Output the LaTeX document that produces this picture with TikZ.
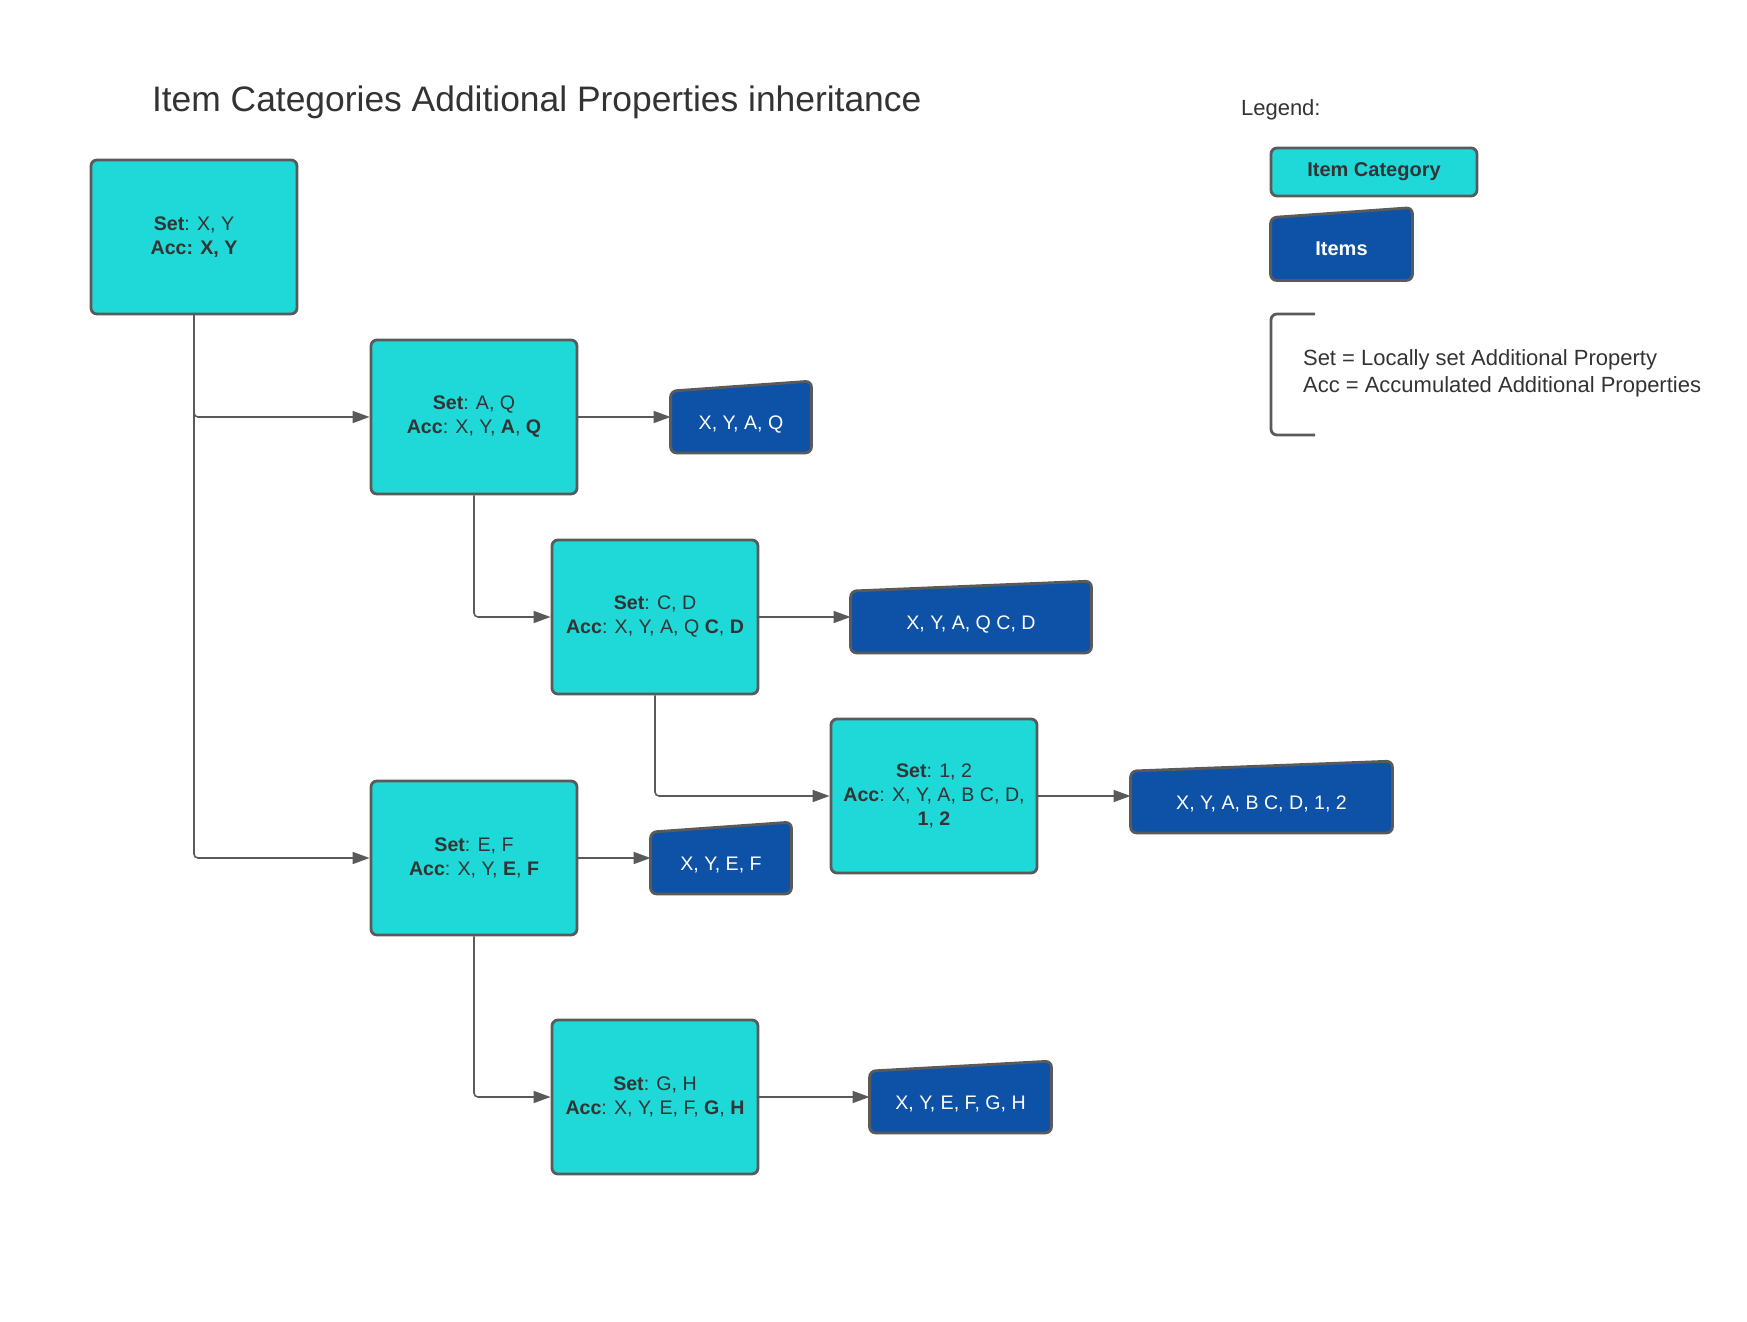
\documentclass[tikz,border=0pt]{standalone}
\usepackage{fontspec}
\setmainfont{Liberation Sans}
\usetikzlibrary{arrows.meta,backgrounds}
\definecolor{catcyan}{RGB}{30,217,216}
\definecolor{itemblue}{RGB}{13,82,167}
\definecolor{edgegray}{RGB}{90,90,90}
\definecolor{txtgray}{RGB}{51,51,51}

\begin{document}
\begin{tikzpicture}[x=0.5pt,y=-0.5pt,
  catbox/.style={draw=edgegray,line width=1.4pt,fill=catcyan,rounded corners=3pt,minimum width=103pt,minimum height=77pt,align=center,text=txtgray,font=\fontsize{9.8}{12}\selectfont},
  itembox/.style={minimum height=35.5pt,align=center,text=white,text height=14pt,text depth=2pt,font=\fontsize{9.8}{12}\selectfont},
  itemshape/.style={draw=edgegray,line width=1.4pt,fill=itemblue,rounded corners=3pt},
  conn/.style={draw=edgegray,line width=0.8pt,rounded corners=2pt,-{Triangle[length=8.5pt,width=6pt]}}]
\useasboundingbox (0,0) rectangle (1747,1322);
\node [anchor=west,text=txtgray,font=\fontsize{17.7}{21}\selectfont] (title) at (145,102) {Item Categories Additional Properties inheritance};
\node [anchor=west,text=txtgray,font=\fontsize{11}{13.4}\selectfont] (legend) at (1234,110) {Legend:};
\node [catbox,minimum height=24pt,font=\bfseries\fontsize{10}{12}\selectfont] (lcat) at (1374,172) {Item Category};
\node [itembox,minimum width=70.5pt,minimum height=36pt,font=\bfseries\fontsize{10}{12}\selectfont] (litem) at (1341.5,244) {Items};
\draw [edgegray,line width=1.4pt,rounded corners=3pt] (1315,314) -- (1271,314) -- (1271,435) -- (1315,435);
\node [anchor=west,align=left,text=txtgray,font=\fontsize{11}{13.4}\selectfont] (ltext) at (1296,373) {Set = Locally set Additional Property\\Acc = Accumulated Additional Properties};
\node [catbox] (root) at (194,237) {\textbf{Set}: X, Y\\\textbf{Acc: X, Y}};
\node [catbox] (aq) at (474,417) {\textbf{Set}: A, Q\\\textbf{Acc}: X, Y, \textbf{A}, \textbf{Q}};
\node [catbox] (cd) at (655,617) {\textbf{Set}: C, D\\\textbf{Acc}: X, Y, A, Q \textbf{C}, \textbf{D}};
\node [catbox] (ot) at (934,796) {\textbf{Set}: 1, 2\\\textbf{Acc}: X, Y, A, B C, D,\\\textbf{1}, \textbf{2}};
\node [catbox] (ef) at (474,858) {\textbf{Set}: E, F\\\textbf{Acc}: X, Y, \textbf{E}, \textbf{F}};
\node [catbox] (gh) at (655,1097) {\textbf{Set}: G, H\\\textbf{Acc}: X, Y, E, F, \textbf{G}, \textbf{H}};
\node [itembox,minimum width=70pt] (iaq) at (741,417) {X, Y, A, Q};
\node [itembox,minimum width=120pt] (icd) at (971,617) {X, Y, A, Q C, D};
\node [itembox,minimum width=130.5pt] (iot) at (1261.5,797) {X, Y, A, B C, D, 1, 2};
\node [itembox,minimum width=70pt] (ief) at (721,858) {X, Y, E, F};
\node [itembox,minimum width=90.5pt] (igh) at (960.5,1097) {X, Y, E, F, G, H};
\begin{scope}[on background layer]
\foreach \n in {litem,iaq,icd,iot,ief,igh}
  \draw [itemshape] (\n.south west) -- (\n.south east) -- (\n.north east) -- ([yshift=-5pt]\n.north west) -- cycle;
\end{scope}
\draw [conn] (root.south) |- (aq.west);
\draw [conn] (root.south) |- (ef.west);
\draw [conn] (aq.south) |- (cd.west);
\draw [conn] (cd.south) |- (ot.west);
\draw [conn] (ef.south) |- (gh.west);
\draw [conn] (aq.east) -- (iaq.west);
\draw [conn] (cd.east) -- (icd.west);
\draw [conn] (ot.east) -- (ot.east -| iot.west);
\draw [conn] (ef.east) -- (ief.west);
\draw [conn] (gh.east) -- (igh.west);
\end{tikzpicture}
\end{document}
